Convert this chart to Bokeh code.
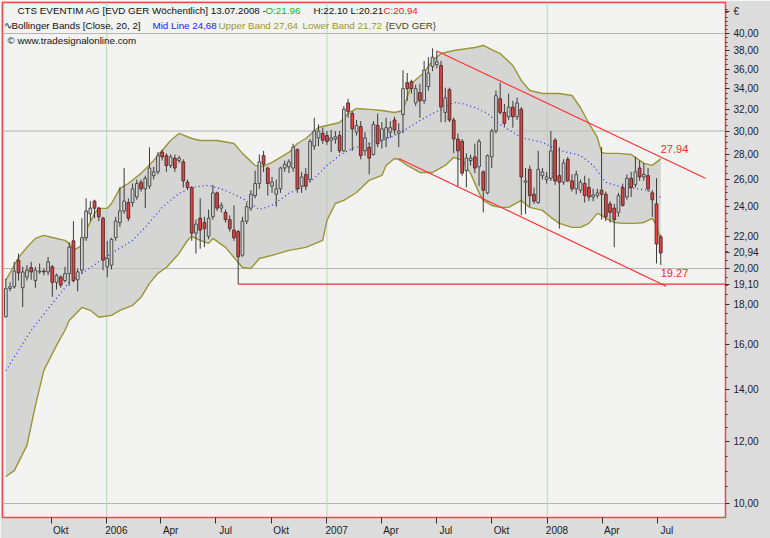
import math
from datetime import datetime, timedelta
from bokeh.plotting import figure
from bokeh.models import Range1d, FixedTicker, Label, Span
from bokeh.embed import file_html
from bokeh.resources import INLINE

# ---------------- data (weekly candles, CTS Eventim) ----------------
first_week = "2005-07-18"
opens = [17.35, 18.85, 18.95, 20.5, 18.9, 19.5, 20.05, 19.3, 19.8, 19.85,
         19.8, 20.1, 19.2, 19.5, 19.3, 19.7, 21.7, 19.35, 19.9, 21.9,
         23.5, 24.4, 23.9, 23.2, 20.1, 20.2, 21.9, 22.9, 23.7, 24.3,
         24.3, 24.7, 25.8, 25.3, 25.5, 26.3, 26.6, 28.2, 27.9, 27.1,
         27.7, 27.5, 27.4, 25.8, 25.4, 22.2, 23.2, 22.9, 22.0, 23.3,
         25.0, 23.9, 23.6, 23.1, 22.4, 22.3, 20.8, 23.0, 23.9, 24.8,
         25.7, 27.9, 26.9, 25.5, 24.9, 25.3, 26.9, 27.0, 26.9, 28.4,
         25.5, 26.4, 26.0, 28.7, 29.4, 29.8, 29.6, 29.2, 29.3, 29.6,
         28.3, 32.6, 31.6, 29.9, 30.4, 28.3, 28.6, 28.0, 30.5, 29.2,
         29.4, 29.9, 31.0, 29.8, 31.5, 34.6, 34.7, 32.6, 33.6, 32.8,
         34.2, 36.3, 36.5, 36.4, 31.7, 33.9, 31.0, 29.3, 29.1, 26.7,
         27.5, 27.8, 27.0, 26.6, 25.0, 27.8, 30.0, 33.0, 31.7, 31.3,
         32.2, 31.3, 32.0, 25.8, 26.8, 24.9, 24.3, 26.3, 26.0, 26.1,
         29.2, 26.3, 25.8, 27.6, 25.9, 25.3, 25.2, 25.7, 25.4, 24.7,
         24.8, 25.2, 24.9, 24.2, 23.9, 23.6, 25.4, 24.7, 26.1, 25.6,
         26.9, 26.2, 26.3, 25.0, 24.2, 21.96]
highs = [19.4, 19.2, 20.4, 20.9, 20.1, 20.2, 20.4, 20.1, 20.3, 20.0,
         20.7, 20.2, 19.7, 19.6, 20.1, 21.6, 23.0, 20.0, 23.2, 24.6,
         24.4, 24.5, 24.0, 23.3, 21.7, 21.9, 23.3, 25.4, 26.9, 24.6,
         25.7, 26.0, 26.0, 26.3, 28.6, 27.0, 28.2, 28.4, 28.1, 28.0,
         28.0, 27.9, 27.6, 26.0, 25.5, 23.1, 24.6, 23.3, 23.8, 25.6,
         25.1, 24.3, 23.8, 23.4, 24.1, 22.4, 23.3, 24.3, 25.2, 26.7,
         28.0, 28.3, 27.0, 26.2, 26.0, 27.0, 27.5, 27.6, 28.9, 28.5,
         26.6, 26.9, 29.3, 31.2, 30.6, 30.3, 30.0, 30.1, 30.0, 30.0,
         32.3, 33.0, 31.8, 31.0, 30.9, 29.9, 29.0, 30.9, 31.6, 30.8,
         31.2, 30.9, 31.3, 30.7, 35.9, 35.6, 34.9, 34.4, 34.5, 36.9,
         37.3, 38.3, 38.0, 36.9, 34.1, 34.1, 31.2, 29.8, 29.3, 28.1,
         28.0, 28.9, 29.3, 26.7, 28.0, 30.2, 33.8, 34.6, 32.5, 33.5,
         32.8, 33.1, 32.2, 26.9, 27.1, 25.4, 28.3, 26.9, 26.6, 30.0,
         29.4, 28.6, 27.6, 27.8, 26.4, 26.7, 26.0, 26.3, 26.1, 25.3,
         25.3, 28.6, 25.1, 24.4, 24.2, 25.0, 25.7, 26.4, 26.6, 27.8,
         27.5, 27.3, 26.9, 25.2, 26.1, 22.10]
lows = [17.3, 18.7, 18.85, 19.3, 17.85, 19.3, 19.35, 18.9, 19.7, 19.6,
        19.6, 18.4, 18.8, 18.9, 19.2, 19.0, 19.2, 18.7, 19.7, 21.7,
        23.0, 23.2, 23.0, 19.9, 19.5, 19.95, 21.7, 22.6, 23.5, 23.0,
        24.0, 24.5, 25.1, 23.9, 25.3, 26.0, 26.4, 27.5, 26.6, 26.9,
        26.6, 27.3, 25.4, 25.2, 21.7, 20.9, 21.2, 21.3, 21.8, 23.1,
        23.7, 23.6, 22.9, 22.3, 21.7, 19.1, 20.7, 22.8, 23.7, 24.6,
        25.3, 26.6, 24.8, 25.0, 24.0, 25.0, 26.6, 26.5, 26.6, 25.0,
        25.0, 25.2, 25.8, 28.4, 28.7, 28.9, 28.8, 28.2, 28.9, 28.1,
        28.2, 31.2, 28.3, 29.6, 27.6, 27.9, 26.4, 27.9, 28.6, 28.5,
        28.6, 29.4, 29.7, 28.6, 29.8, 32.8, 33.5, 32.3, 31.2, 32.5,
        33.8, 35.8, 36.1, 30.8, 30.8, 30.8, 28.1, 25.5, 26.3, 25.4,
        27.1, 26.5, 25.5, 23.6, 24.9, 26.9, 29.8, 31.5, 30.4, 31.0,
        30.3, 31.0, 23.4, 23.5, 24.0, 24.2, 24.2, 26.0, 25.7, 25.9,
        25.6, 22.5, 25.6, 25.8, 25.1, 24.9, 25.0, 24.3, 24.4, 24.4,
        24.6, 23.1, 23.0, 22.9, 21.3, 23.3, 24.0, 24.5, 24.7, 25.4,
        25.9, 25.9, 25.1, 23.3, 20.3, 20.21]
closes = [18.85, 18.95, 19.85, 19.75, 19.8, 19.9, 19.8, 19.9, 19.85, 19.8,
          20.4, 19.2, 19.6, 19.05, 19.7, 21.3, 19.3, 19.8, 21.9, 23.7,
          23.9, 23.9, 23.3, 20.5, 20.6, 21.8, 23.0, 23.7, 24.4, 23.2,
          25.3, 25.7, 25.3, 26.1, 26.9, 26.6, 27.9, 27.8, 27.1, 27.8,
          26.9, 27.7, 25.9, 25.4, 22.2, 22.8, 22.4, 22.5, 23.2, 25.0,
          23.9, 24.1, 23.1, 22.5, 21.9, 20.7, 23.0, 24.0, 24.9, 25.7,
          27.4, 27.2, 25.7, 25.8, 25.3, 26.9, 27.2, 27.4, 28.6, 25.3,
          26.2, 25.5, 29.1, 30.0, 30.0, 29.2, 29.1, 29.4, 29.5, 28.3,
          32.0, 31.8, 30.2, 30.5, 27.9, 29.4, 27.7, 30.6, 28.9, 30.2,
          30.3, 30.3, 30.1, 30.0, 34.0, 34.0, 34.0, 34.0, 32.8, 35.9,
          35.6, 37.3, 36.8, 32.2, 33.1, 31.0, 29.3, 28.3, 26.5, 27.7,
          27.7, 26.9, 29.1, 25.2, 27.9, 30.0, 33.3, 31.7, 30.7, 32.2,
          31.3, 32.6, 26.2, 25.9, 24.8, 24.4, 26.8, 26.6, 26.2, 28.3,
          25.9, 25.8, 27.3, 25.9, 25.3, 26.4, 25.8, 24.8, 24.7, 24.85,
          25.0, 24.9, 23.3, 23.6, 23.1, 24.8, 24.1, 26.1, 25.4, 26.6,
          26.2, 26.4, 25.3, 24.5, 21.5, 20.94]

# Bollinger Bands (Close, 20, 2): week index -> value
upper_wk = [0, 3, 5, 7, 9, 11, 14, 15, 16, 18, 19, 21, 22, 24, 25, 27, 29, 32, 35, 37,
            39, 41, 44, 46, 50, 54, 56, 59, 61, 63, 67, 69, 71, 74, 76, 79, 81, 83, 86, 89,
            92, 94, 95, 96, 99, 101, 103, 106, 111, 113, 115, 117, 120, 122, 124, 127, 131,
            134, 136, 138, 140, 141, 142, 145, 148, 149, 151, 153, 155]
upper_val = [19.31, 20.66, 21.29, 21.86, 22.05, 21.92, 21.73, 21.54, 21.10, 21.41, 22.38,
             23.53, 23.88, 23.88, 24.23, 25.33, 25.70, 26.48, 27.51, 28.33, 29.18, 29.79,
             29.35, 29.18, 29.18, 28.92, 28.09, 27.11, 27.03, 27.35, 28.17, 28.92, 29.35,
             30.32, 30.50, 30.77, 31.60, 32.07, 31.98, 31.88, 31.69, 31.88, 33.12, 34.52,
             35.66, 36.94, 37.71, 38.05, 38.39, 38.62, 38.16, 37.71, 36.40, 34.83, 33.81,
             33.52, 33.52, 33.32, 32.16, 30.68, 29.44, 28.17, 28.09, 28.09, 28.00, 27.76,
             27.27, 27.11, 27.64]
mid_wk = [0, 6, 11, 15, 20, 25, 30, 33, 37, 41, 44, 48, 52, 56, 60, 63, 67, 70, 73, 76,
          79, 82, 86, 89, 92, 95, 98, 101, 104, 106, 108, 111, 114, 117, 122, 127, 131,
          136, 139, 142, 146, 149, 152, 155]
mid_val = [14.8, 16.67, 18.04, 19.19, 20.06, 20.91, 21.73, 22.58, 23.95, 24.96, 25.41,
           25.56, 25.18, 24.59, 23.81, 24.09, 24.96, 25.41, 26.09, 27.11, 27.92, 28.50,
           28.92, 29.18, 29.61, 30.23, 30.95, 31.60, 32.16, 32.64, 32.54, 32.16, 31.60,
           30.59, 29.44, 29.01, 28.33, 27.92, 27.11, 25.79, 25.41, 25.33, 25.18, 24.68]
lower_wk = [0, 2, 5, 7, 9, 12, 14, 15, 18, 20, 22, 25, 27, 30, 32, 34, 36, 38, 41, 43,
            44, 46, 48, 49, 52, 54, 56, 58, 60, 63, 67, 71, 75, 76, 78, 80, 83, 86, 89, 90,
            92, 93, 95, 98, 101, 104, 106, 108, 110, 112, 113, 115, 117, 119, 122, 124, 127,
            129, 131, 134, 136, 138, 140, 141, 142, 144, 146, 149, 151, 153, 154, 155]
lower_val = [10.83, 11.02, 11.87, 13.35, 14.81, 15.94, 16.67, 17.16, 17.83, 17.68, 17.32,
             17.42, 17.68, 17.94, 18.37, 19.14, 19.72, 20.06, 20.91, 21.73, 21.99, 21.73,
             21.54, 21.86, 21.29, 20.66, 20.06, 20.00, 20.60, 20.79, 21.10, 21.29, 21.73,
             23.05, 24.23, 24.45, 25.03, 25.94, 26.32, 27.11, 27.67, 27.59, 27.11, 26.55,
             26.55, 27.11, 27.76, 27.51, 26.48, 25.00, 24.45, 24.09, 23.95, 23.95, 24.45,
             23.95, 23.74, 23.26, 22.85, 22.58, 22.58, 22.85, 23.53, 23.39, 23.19, 22.91,
             22.85, 22.85, 22.91, 23.19, 22.71, 21.72]

# drawn trend channel and support line
trend_up_dates = ["2007-07-02", "2008-09-19"]
trend_up_vals = [38.0, 26.1]
trend_dn_dates = ["2007-04-30", "2008-07-16"]
trend_dn_vals = [27.67, 18.98]
trend_up_now = 27.94
trend_dn_now = 19.27
support_week = 55
support_val = 19.10

quarter_dates = ["2005-10-01", "2006-01-01", "2006-04-01", "2006-07-01", "2006-10-01",
                 "2007-01-01", "2007-04-01", "2007-07-01", "2007-10-01", "2008-01-01",
                 "2008-04-01", "2008-07-01"]
quarter_labels = ["Okt", "2006", "Apr", "Jul", "Okt", "2007", "Apr", "Jul", "Okt",
                  "2008", "Apr", "Jul"]
year_dates = ["2006-01-01", "2007-01-01", "2008-01-01"]
price_ticks = [10, 12, 14, 16, 18, 20, 22, 24, 26, 28, 30, 32, 34, 36, 38, 40]
grid_prices = [10, 20, 30, 40]
currency = "€"

# ---------------- helpers / layout ----------------
EPOCH = datetime(1970, 1, 1)
def to_ms(d):
    if isinstance(d, str):
        d = datetime.strptime(d, "%Y-%m-%d")
    return (d - EPOCH).total_seconds() * 1000.0

DAY = 86400000.0
w0 = datetime.strptime(first_week, "%Y-%m-%d")
n = len(closes)
xs = [to_ms(w0 + timedelta(days=7 * i)) for i in range(n)]

RX0, RX1, RY0, RY1 = 2, 725, 2, 517      # frame edges in the 770x538 picture
FW, FH = RX1 - RX0, RY1 - RY0
def sx(rx):
    return rx - RX0
def sy(ry):
    return RY1 - ry

anchor = to_ms("2005-10-01")
px_day = 0.6036
x_start = anchor + (RX0 - 50.6) / px_day * DAY
x_end = anchor + (RX1 - 50.6) / px_day * DAY
y_bot = 10 * math.exp((503 - RY1) / 339.0)
y_top = 10 * math.exp((503 - RY0) / 339.0)
y_cur_label = round(10 * math.exp((503 - 11) / 339.0), 2)   # height of the currency caption

p = figure(frame_width=FW, frame_height=FH, x_axis_type="datetime", y_axis_type="log",
           y_axis_location="right", x_range=Range1d(x_start, x_end),
           y_range=Range1d(y_bot, y_top), output_backend="svg", toolbar_location=None,
           min_border_left=RX0, min_border_top=RY0, min_border_right=770 - RX1,
           min_border_bottom=538 - RY1)
p.background_fill_color = "#f3f3f1"
p.border_fill_color = "#dcdcdc"
p.outline_line_color = "#f04848"
p.outline_line_width = 1.5
p.xgrid.visible = False
p.ygrid.visible = False

for gp in grid_prices:
    p.add_layout(Span(location=gp, dimension="width", line_color="#b4b4b4",
                      line_width=1, level="underlay"))
for yd in year_dates:
    p.add_layout(Span(location=to_ms(yd), dimension="height", line_color="#b8d6b8",
                      line_width=1, level="underlay"))

# Bollinger band
ux = [xs[i] for i in upper_wk]
lx = [xs[i] for i in lower_wk]
mx = [xs[i] for i in mid_wk]
p.patch(ux + lx[::-1], upper_val + lower_val[::-1], fill_color="#c2c2c2",
        fill_alpha=0.62, line_color=None)
p.line(ux, upper_val, line_color="#9a9634", line_width=1.4)
p.line(lx, lower_val, line_color="#9a9634", line_width=1.4)
p.line(mx, mid_val, line_color="#3030ff", line_width=1.3, line_dash="1 3")

# candles
p.segment(xs, lows, xs, highs, line_color="#3a3a3a", line_width=1)
inc = [i for i in range(n) if closes[i] >= opens[i]]
dec = [i for i in range(n) if closes[i] < opens[i]]
bw = 4.5 * DAY
p.vbar(x=[xs[i] for i in inc], width=bw, bottom=[opens[i] for i in inc],
       top=[closes[i] for i in inc], fill_color="#d6d6d6", line_color="#4c4c4c", line_width=1)
p.vbar(x=[xs[i] for i in dec], width=bw, bottom=[closes[i] for i in dec],
       top=[opens[i] for i in dec], fill_color="#e04646", line_color="#5c2a2a", line_width=1)

# trend lines
p.line([to_ms(d) for d in trend_up_dates], trend_up_vals, line_color="#ff3030", line_width=1.2)
p.line([to_ms(d) for d in trend_dn_dates], trend_dn_vals, line_color="#ff3030", line_width=1.2)
p.segment([xs[support_week]], [support_val], [x_end], [support_val],
          line_color="#ff3030", line_width=1.2)

FONT = "Liberation Sans"
p.add_layout(Label(x=xs[-1], y=trend_up_now, text=f"{trend_up_now:.2f}", text_color="#ff2828",
                   text_font=FONT, text_font_size="11px", text_baseline="bottom", y_offset=2))
p.add_layout(Label(x=xs[-1], y=trend_dn_now, text=f"{trend_dn_now:.2f}", text_color="#ff2828",
                   text_font=FONT, text_font_size="11px", text_baseline="bottom", y_offset=4))

# axes
xa = p.xaxis[0]
q_ms = [int(to_ms(d)) for d in quarter_dates]
xa.ticker = FixedTicker(ticks=q_ms)
xa.major_label_overrides = {t: "\u00a0" * 7 + lab for t, lab in zip(q_ms, quarter_labels)}
xa.axis_line_color = None
xa.major_tick_out = 6
xa.major_tick_in = 0
xa.major_tick_line_color = "#303030"
xa.minor_tick_line_color = None
xa.major_label_text_font = FONT
xa.major_label_text_font_size = "10px"
xa.major_label_text_color = "#1a1a1a"
xa.major_label_standoff = 1

def fmt(v):
    return f"{v:.2f}".replace(".", ",")

ya = p.yaxis[0]
main_ticks = sorted(price_ticks + [closes[-1], support_val, y_cur_label])
labels = {t: fmt(t) for t in main_ticks}
labels[y_cur_label] = currency
ya.ticker = FixedTicker(ticks=main_ticks, minor_ticks=[9.5 + 0.5 * k for k in range(68)])
ya.major_label_overrides = labels
ya.axis_line_color = None
ya.major_tick_out = 4
ya.major_tick_in = 0
ya.minor_tick_out = 2
ya.minor_tick_in = 0
ya.major_tick_line_color = "#303030"
ya.minor_tick_line_color = "#303030"
ya.major_label_text_font = FONT
ya.major_label_text_font_size = "10px"
ya.major_label_text_color = "#1a1a2a"
ya.major_label_standoff = 4

# header texts
hdr = [
    (17, 10, "CTS EVENTIM AG [EVD GER  Wöchentlich] 13.07.2008 - ", "#101010"),
    (265, 10, f"O:{opens[-1]:.2f}", "#1fae1f"),
    (313, 10, f"H:{highs[-1]:.2f} L:{lows[-1]:.2f}", "#101010"),
    (383, 10, f"C:{closes[-1]:.2f}", "#ff2020"),
    (3, 25, "∿Bollinger Bands [Close, 20, 2]", "#101010"),
    (152, 25, "Mid Line " + fmt(mid_val[-1]), "#2020ff"),
    (218, 25, "Upper Band " + fmt(upper_val[-1]), "#9c9630"),
    (302, 25, "Lower Band " + fmt(lower_val[-1]), "#9c9630"),
    (385, 25, "{EVD GER}", "#4a4a20"),
    (7, 40, "© www.tradesignalonline.com", "#101010"),
]
for rx, ry, txt, col in hdr:
    p.add_layout(Label(x=sx(rx), y=sy(ry), x_units="screen", y_units="screen", text=txt,
                       text_color=col, text_font=FONT, text_font_size="9.8px",
                       text_baseline="middle"))

open("out.html", "w").write(file_html(p, INLINE))
